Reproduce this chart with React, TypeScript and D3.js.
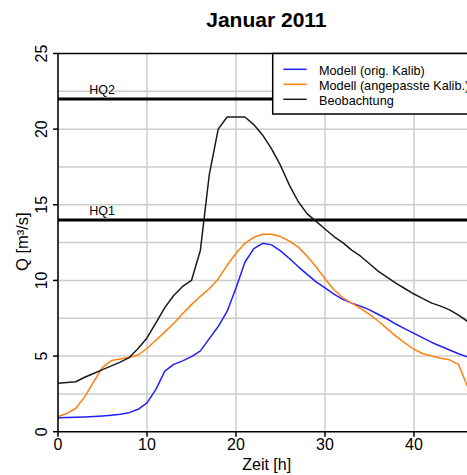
import React, { useEffect } from "react";
import * as d3 from "d3";

const hours = d3.range(0, 47);
const beobachtung = [3.2, 3.25, 3.3, 3.6, 3.85, 4.1, 4.35, 4.6, 4.9, 5.5, 6.2, 7.2, 8.2, 9.0, 9.6, 10.0, 12.0, 17.0, 20.0, 20.8, 20.8, 20.8, 20.3, 19.6, 18.7, 17.6, 16.3, 15.2, 14.4, 13.9, 13.4, 12.9, 12.5, 12.0, 11.6, 11.1, 10.6, 10.2, 9.8, 9.45, 9.1, 8.8, 8.5, 8.3, 8.05, 7.7, 7.3];
const modellOrig = [0.93, 0.94, 0.95, 0.97, 1.0, 1.04, 1.09, 1.15, 1.26, 1.48, 1.9, 2.8, 4.0, 4.45, 4.68, 4.96, 5.34, 6.15, 6.95, 7.95, 9.5, 11.2, 12.1, 12.45, 12.35, 11.95, 11.45, 10.9, 10.4, 9.9, 9.5, 9.1, 8.75, 8.5, 8.3, 8.05, 7.75, 7.45, 7.1, 6.8, 6.5, 6.2, 5.9, 5.65, 5.4, 5.15, 4.95];
const modellAngepasst = [1.0, 1.2, 1.55, 2.3, 3.3, 4.25, 4.7, 4.8, 4.9, 5.07, 5.5, 6.05, 6.6, 7.15, 7.8, 8.4, 8.95, 9.45, 10.1, 11.0, 11.8, 12.45, 12.85, 13.05, 13.05, 12.9, 12.6, 12.2, 11.6, 10.9, 10.1, 9.4, 8.85, 8.5, 8.15, 7.75, 7.3, 6.8, 6.3, 5.85, 5.45, 5.15, 5.0, 4.85, 4.75, 4.45, 3.0];
const xTicks = [0, 10, 20, 30, 40];
const yTicks = [0, 5, 10, 15, 20, 25];
const yGrid = [2.5, 5, 7.5, 10, 12.5, 15, 17.5, 20, 22.5];
const hqLevels = [
  { name: "HQ2", value: 22 },
  { name: "HQ1", value: 14 },
];
const legendItems = [
  { label: "Modell (orig. Kalib)", color: "#1f1fff" },
  { label: "Modell (angepasste Kalib.)", color: "#ff7f0e" },
  { label: "Beobachtung", color: "#1a1a1a" },
];

const W = 467;
const H = 475;
const FONT = "'Liberation Sans', Arial, sans-serif";

export default function App() {
  useEffect(() => {
    document.body.style.margin = "0";
  }, []);

  const x = d3.scaleLinear().domain([0, 46]).range([58, 467.4]);
  const y = d3.scaleLinear().domain([0, 25]).range([431.7, 53.5]);

  const line = (vals: number[]) =>
    d3
      .line<number>()
      .x((_, i) => x(hours[i]))
      .y((d) => y(d))(vals) || "";

  const series = [
    { vals: modellOrig, color: legendItems[0].color },
    { vals: modellAngepasst, color: legendItems[1].color },
    { vals: beobachtung, color: legendItems[2].color },
  ];

  const [x0, x1] = x.range();
  const [yb, yt] = y.range();

  return (
    <svg width={W} height={H} style={{ display: "block", background: "#fff" }} fontFamily={FONT}>
      <rect x={0} y={0} width={W} height={H} fill="#fff" />
      <defs>
        <clipPath id="plot">
          <rect x={x0} y={yt} width={x1 - x0} height={yb - yt} />
        </clipPath>
      </defs>
      {/* grid */}
      {xTicks.map((t) => (
        <line key={"gx" + t} x1={x(t)} x2={x(t)} y1={yt} y2={yb} stroke="#cccccc" strokeWidth={1.5} />
      ))}
      {yGrid.map((t) => (
        <line key={"gy" + t} x1={x0} x2={x1} y1={y(t)} y2={y(t)} stroke="#cccccc" strokeWidth={1.5} />
      ))}
      {/* HQ lines */}
      {hqLevels.map((h) => (
        <g key={h.name}>
          <line x1={x0} x2={x1} y1={y(h.value)} y2={y(h.value)} stroke="#000" strokeWidth={3} />
          <text x={x(3.5)} y={y(h.value) - 4.5} fontSize={12.5} fill="#000">
            {h.name}
          </text>
        </g>
      ))}
      {/* data lines */}
      <g clipPath="url(#plot)">
        {series.map((s, i) => (
          <path key={i} d={line(s.vals)} fill="none" stroke={s.color} strokeWidth={1.5} strokeLinejoin="round" />
        ))}
      </g>
      {/* axes */}
      <line x1={x0} x2={x0} y1={yt} y2={yb} stroke="#000" strokeWidth={1.5} />
      <line x1={x0} x2={x1} y1={yb} y2={yb} stroke="#000" strokeWidth={1.5} />
      <line x1={x0} x2={x1} y1={yt} y2={yt} stroke="#000" strokeWidth={1.5} />
      {yTicks.map((t) => (
        <g key={"yt" + t}>
          <line x1={x0 - 5} x2={x0} y1={y(t)} y2={y(t)} stroke="#000" strokeWidth={1.5} />
          <text
            transform={`translate(${47},${y(t)}) rotate(-90)`}
            textAnchor="middle"
            fontSize={16}
            fill="#000"
          >
            {t}
          </text>
        </g>
      ))}
      {xTicks.map((t) => (
        <g key={"xt" + t}>
          <line x1={x(t)} x2={x(t)} y1={yb} y2={yb + 5} stroke="#000" strokeWidth={1.5} />
          <text x={x(t)} y={450} textAnchor="middle" fontSize={16} fill="#000">
            {t}
          </text>
        </g>
      ))}
      {/* axis labels */}
      <text x={266.7} y={469.5} textAnchor="middle" fontSize={16} fill="#000">
        Zeit [h]
      </text>
      <text transform={`translate(28,${241.7}) rotate(-90)`} textAnchor="middle" fontSize={16.5} fill="#000">
        Q [m³/s]
      </text>
      {/* title */}
      <text x={266.4} y={26.5} textAnchor="middle" fontSize={21} fontWeight="bold" fill="#000">
        Januar 2011
      </text>
      {/* legend */}
      <rect x={272.7} y={yt} width={230} height={114 - yt} fill="#fff" stroke="#000" strokeWidth={1.5} />
      {legendItems.map((it, i) => (
        <g key={it.label}>
          <line x1={283.3} x2={306.7} y1={69.3 + i * 15} y2={69.3 + i * 15} stroke={it.color} strokeWidth={1.5} />
          <text x={319} y={69.3 + i * 15 + 5.3} fontSize={12.7} fill="#000">
            {it.label}
          </text>
        </g>
      ))}
    </svg>
  );
}
